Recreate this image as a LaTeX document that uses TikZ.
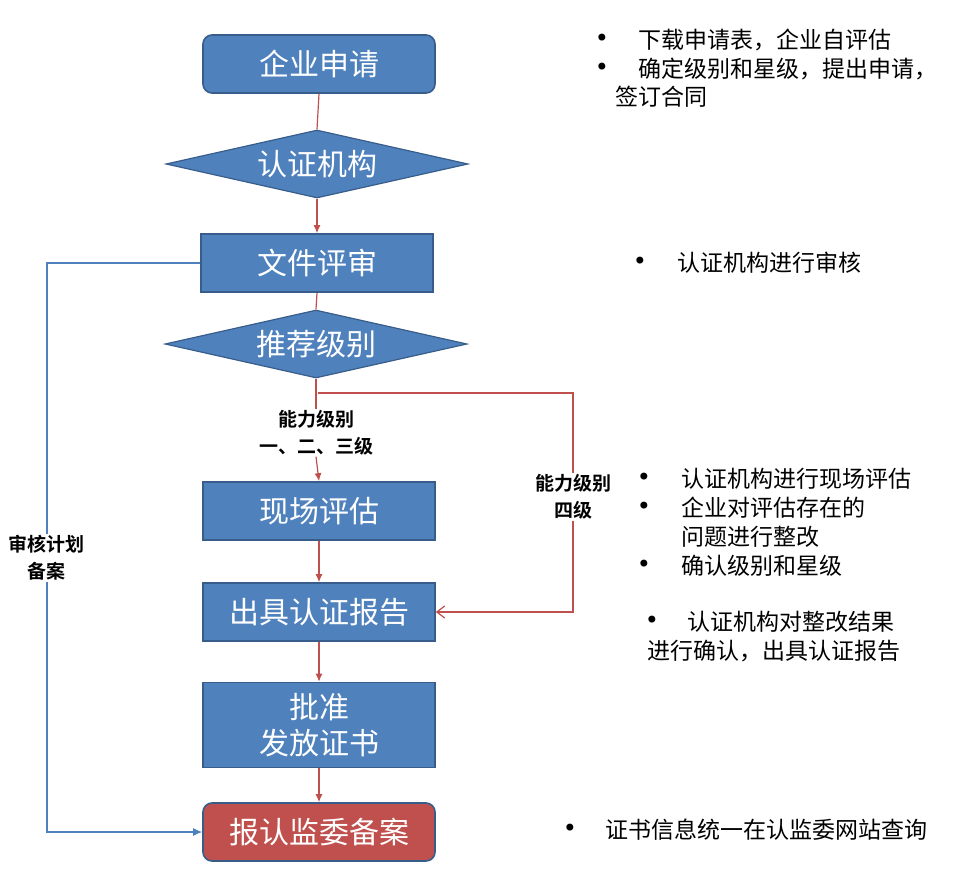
\documentclass[tikz,border=0pt]{standalone}
\usepackage{fontspec}
\newfontfamily\cjk{Noto Sans CJK SC}
\newfontfamily\cjkb{Noto Sans CJK SC Bold}
\newfontfamily\symf{DejaVu Sans}
\usetikzlibrary{shapes.geometric,arrows.meta}
\definecolor{boxblue}{HTML}{4F81BD}
\definecolor{boxedge}{HTML}{385D8A}
\definecolor{linered}{HTML}{C0504D}
\definecolor{boxred}{HTML}{C0504D}
\tikzset{
  stepbox/.style={rectangle, draw=boxedge, line width=1.6pt, fill=boxblue, text=white,
    minimum width=232pt, minimum height=58pt, inner sep=0pt, align=center,
    font=\cjk\fontsize{30}{36}\selectfont},
  roundbox/.style={stepbox, rounded corners=9pt},
  decide/.style={diamond, draw=boxedge, line width=1.2pt, fill=boxblue, text=white,
    minimum width=302pt, minimum height=68pt, aspect=4.44, inner sep=0pt,
    font=\cjk\fontsize{30}{36}\selectfont},
  flow/.style={draw=linered, line width=1.2pt, -{Latex[length=8pt,width=7pt]}},
  flowplain/.style={draw=linered, line width=1.2pt},
  loopline/.style={draw=boxblue, line width=1.2pt},
  lab/.style={font=\cjkb\fontsize{19}{27}\selectfont, align=center, inner sep=1pt, fill=white},
  note/.style={anchor=west, inner sep=0pt, font=\cjk\fontsize{23}{28}\selectfont},
  dot/.style={anchor=center, inner sep=0pt, font=\symf\fontsize{24}{28}\selectfont}
}
\begin{document}
\begin{tikzpicture}[x=1pt,y=-1pt]
\useasboundingbox (0,0) rectangle (959,881);

% main column
\node[roundbox] (apply) at (319,64) {企业申请};
\node[decide] (org) at (317,164) {认证机构};
\node[stepbox] (doc) at (317,263) {文件评审};
\node[decide] (grade) at (316,344) {推荐级别};
\node[lab, fill=none] (lab1) at (316,433) {能力级别\\一、二、三级};
\node[stepbox] (site) at (319,511) {现场评估};
\node[stepbox] (rep) at (319,612) {出具认证报告};
\node[stepbox, minimum height=85pt] (cert) at (319,725) {批准\\发放证书};
\node[roundbox, fill=boxred] (rec) at (319,832) {报认监委备案};

\node[lab] (lab4) at (573,497) {能力级别\\四级};
\node[lab] (lab5) at (47,558) {审核计划\\备案};

\coordinate (br) at (318,393);

% connectors
\draw[flowplain] (apply.south) -- (org.north);
\draw[flow] (org.south) -- (doc.north);
\draw[flowplain] (doc.south) -- (grade.north);
\draw[flowplain] (grade.south) -- (lab1.north);
\draw[flow] (lab1.south) -- (site.north);
\draw[flow] (site.south) -- (rep.north);
\draw[flow] (rep.south) -- (cert.north);
\draw[flow] (cert.south) -- (rec.north);
\draw[flowplain] (br) -| (lab4.north);
\draw[draw=linered, line width=1.2pt, -{Straight Barb[length=8pt,width=12pt]}] (lab4.south) |- (rep.east);
\draw[loopline] (doc.west) -| (lab5.north);
\draw[loopline, -{Latex[length=9pt,width=8pt]}] (lab5.south) |- (rec.west);

% notes
\node[dot] (n1d) at (602,40) {•};
\node[note] (n1) at (638,40) {下载申请表，企业自评估};
\node[dot] (n2d) at (602,69) {•};
\node[note] (n2) at (638,69) {确定级别和星级，提出申请，};
\node[note] (n2b) at (615,97) {签订合同};

\node[dot] (n3d) at (640,263) {•};
\node[note] (n3) at (677,263) {认证机构进行审核};

\node[dot] (n4d) at (644,479) {•};
\node[note] (n4) at (681,479) {认证机构进行现场评估};
\node[dot] (n5d) at (644,508) {•};
\node[note] (n5) at (681,508) {企业对评估存在的};
\node[note] (n5b) at (681,537) {问题进行整改};
\node[dot] (n6d) at (644,566) {•};
\node[note] (n6) at (681,566) {确认级别和星级};

\node[dot] (n7d) at (652,622) {•};
\node[note] (n7) at (687,622) {认证机构对整改结果};
\node[note] (n7b) at (647,651) {进行确认，出具认证报告};

\node[dot] (n8d) at (570,830) {•};
\node[note] (n8) at (605,830) {证书信息统一在认监委网站查询};
\end{tikzpicture}
\end{document}
